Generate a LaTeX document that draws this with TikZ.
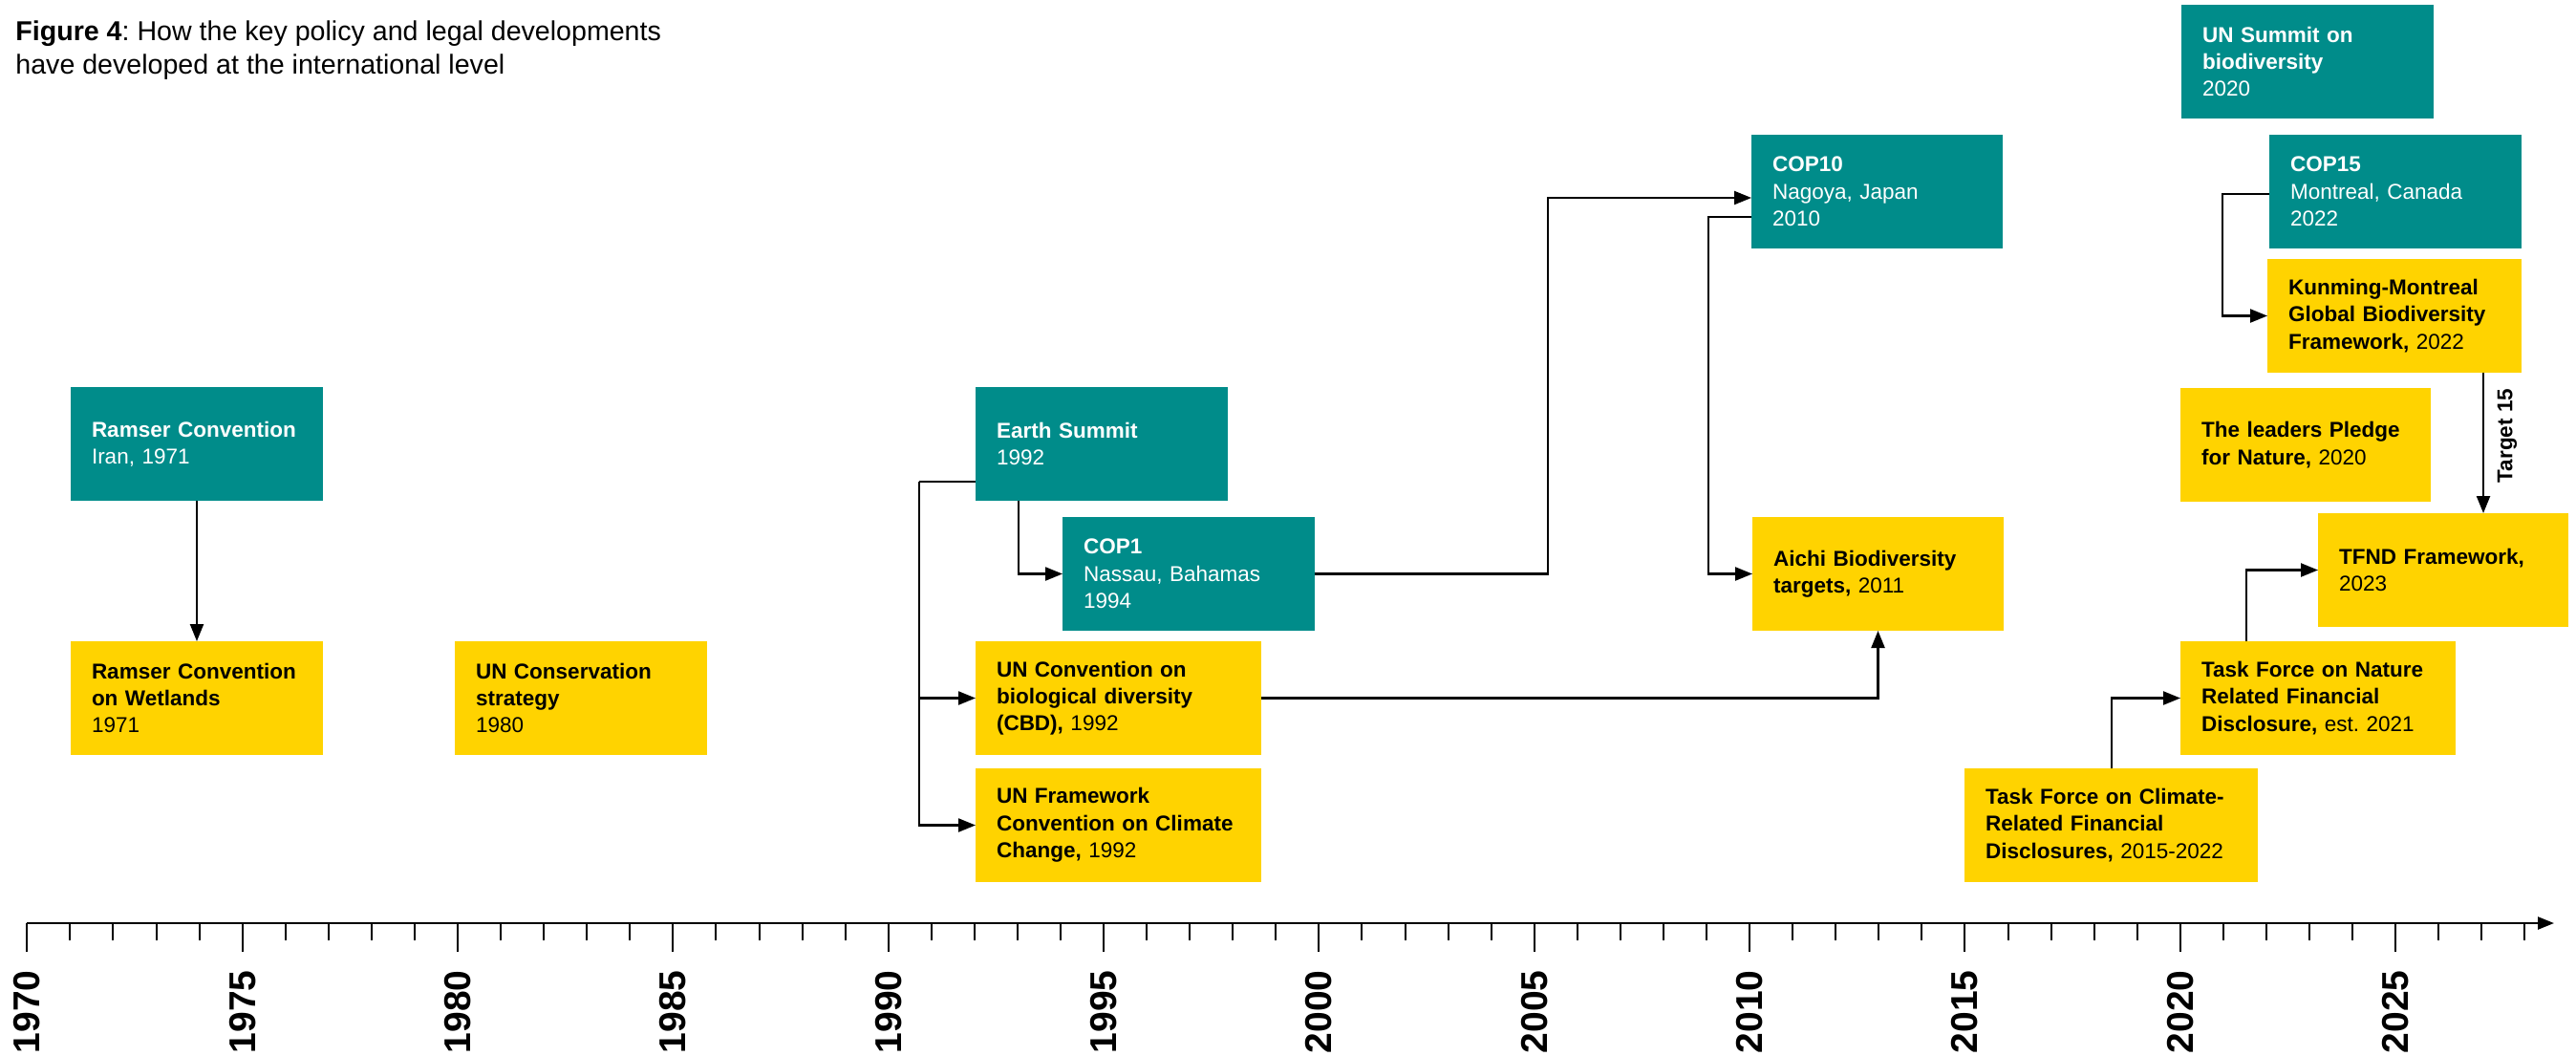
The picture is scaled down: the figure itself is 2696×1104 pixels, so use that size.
\documentclass[tikz,border=0pt]{standalone}
\usepackage{fontspec}
\setmainfont{Liberation Sans}
\usetikzlibrary{arrows.meta,calc}
\definecolor{tealbg}{HTML}{008C8A}
\definecolor{yellowbg}{HTML}{FFD300}
\newcommand\boxfont{\fontsize{11.25pt}{14.15pt}\selectfont}
\frenchspacing
\begin{document}
\begin{tikzpicture}[x=0.5pt,y=-0.5pt,
  boxbase/.style={rectangle, inner xsep=11pt, inner ysep=0pt, outer sep=0pt,
    minimum height=59.5pt, align=left, anchor=north west, font=\boxfont},
  tealbox/.style={boxbase, fill=tealbg, text=white, text width=#1},
  tealbox/.default=110pt,
  yelbox/.style={boxbase, fill=yellowbg, text=black, text width=#1},
  yelbox/.default=110pt,
  conn/.style={line width=1.1pt, draw=black},
  arr/.style={conn, -{Triangle[length=9pt,width=7pt]}},
  axisline/.style={line width=1.2pt, -{Triangle[length=8.5pt,width=6.5pt]}},
  tickline/.style={line width=1pt},
  yearlab/.style={rotate=90, anchor=east, inner sep=0pt, font=\bfseries\fontsize{19.5pt}{20pt}\selectfont},
  titlestyle/.style={anchor=north west, inner sep=0pt, align=left, font=\fontsize{14.3pt}{17.5pt}\selectfont},
  t15style/.style={rotate=90, inner sep=0pt, font=\boxfont\bfseries}
]
\useasboundingbox (0,0) rectangle (2696,1104);

% title
\node[titlestyle] (title) at (16,21) {\textbf{Figure 4}: How the key policy and legal developments\\have developed at the international level};

% boxes
\node[tealbox] (ramser) at (74,405) {\textbf{Ramser Convention}\\Iran, 1971};
\node[yelbox] (wetlands) at (74,671) {\textbf{Ramser Convention}\\\textbf{on Wetlands}\\1971};
\node[yelbox] (uncons) at (476,671) {\textbf{UN Conservation}\\\textbf{strategy}\\1980};
\node[tealbox] (earth) at (1021,405) {\textbf{Earth Summit}\\1992};
\node[tealbox] (cop1) at (1112,541) {\textbf{COP1}\\Nassau, Bahamas\\1994};
\node[yelbox=127.5pt] (cbd) at (1021,671) {\textbf{UN Convention on}\\\textbf{biological diversity}\\\textbf{(CBD),} 1992};
\node[yelbox=127.5pt] (unfccc) at (1021,804) {\textbf{UN Framework}\\\textbf{Convention on Climate}\\\textbf{Change,} 1992};
\node[tealbox=109.5pt] (cop10) at (1833,141) {\textbf{COP10}\\Nagoya, Japan\\2010};
\node[yelbox=109.5pt] (aichi) at (1834,541) {\textbf{Aichi Biodiversity}\\\textbf{targets,} 2011};
\node[tealbox] (unsummit) at (2283,5) {\textbf{UN Summit on}\\\textbf{biodiversity}\\2020};
\node[tealbox] (cop15) at (2375,141) {\textbf{COP15}\\Montreal, Canada\\2022};
\node[yelbox=111pt] (kunming) at (2373,271) {\textbf{Kunming-Montreal}\\\textbf{Global Biodiversity}\\\textbf{Framework,} 2022};
\node[yelbox=109pt] (leaders) at (2282,406) {\textbf{The leaders Pledge}\\\textbf{for Nature,} 2020};
\node[yelbox=109pt] (tfnd) at (2426,537) {\textbf{TFND Framework,}\\2023\\[4pt]};
\node[yelbox=122pt] (tnfd) at (2282,671) {\textbf{Task Force on Nature}\\\textbf{Related Financial}\\\textbf{Disclosure,} est. 2021};
\node[yelbox=131.5pt] (tcfd) at (2056,804) {\textbf{Task Force on Climate-}\\\textbf{Related Financial}\\\textbf{Disclosures,} 2015-2022};

% connectors
\draw[arr] (ramser.south) -- (wetlands.north);

\coordinate (esl) at (962,504);
\draw[conn] (esl -| earth.west) -- (esl);
\draw[arr] (esl) |- (cbd.west);
\draw[arr] (esl) |- (unfccc.west);

\coordinate (b1) at (1066,0);
\draw[arr] (b1 |- earth.south) |- (cop1.west);

\coordinate (b2) at (1620,0);
\coordinate (cop10in) at ($(cop10.north west)+(0,66)$);
\draw[arr] (cop1.east) -| (b2 |- cop10in) -- (cop10in);

\coordinate (b3) at (1788,0);
\coordinate (cop10out) at ($(cop10.north west)+(0,86)$);
\draw[arr] (cop10out) -- (b3 |- cop10out) |- (aichi.west);

\draw[arr] (cbd.east) -| (aichi.south);

\coordinate (b4) at (2326,0);
\coordinate (cop15out) at ($(cop15.north west)+(0,62)$);
\draw[arr] (cop15out) -- (b4 |- cop15out) |- (kunming.west);

\coordinate (b5) at (2599,0);
\draw[arr] (b5 |- kunming.south) -- (b5 |- tfnd.north);
\node[t15style] (target) at (2624,456) {Target 15};

\coordinate (b6) at (2210,0);
\draw[arr] (b6 |- tcfd.north) |- (tnfd.west);

\coordinate (b7) at (2351,0);
\draw[arr] (b7 |- tnfd.north) |- (tfnd.west);

% axis
\coordinate (ax0) at (28.3,966);
\coordinate (ax1) at (2673,966);
\draw[axisline] (ax0) -- (ax1);
\foreach \k in {0,...,58}{
  \pgfmathsetmacro\xx{28.3+45.07*\k}
  \draw[tickline] (\xx,966) -- (\xx,984);
}
\foreach \k in {0,5,...,55}{
  \pgfmathsetmacro\xx{28.3+45.07*\k}
  \pgfmathtruncatemacro\yr{1970+\k}
  \draw[tickline] (\xx,966) -- (\xx,996);
  \node[yearlab] (y\yr) at (\xx,1015) {\yr};
}
\end{tikzpicture}
\end{document}
